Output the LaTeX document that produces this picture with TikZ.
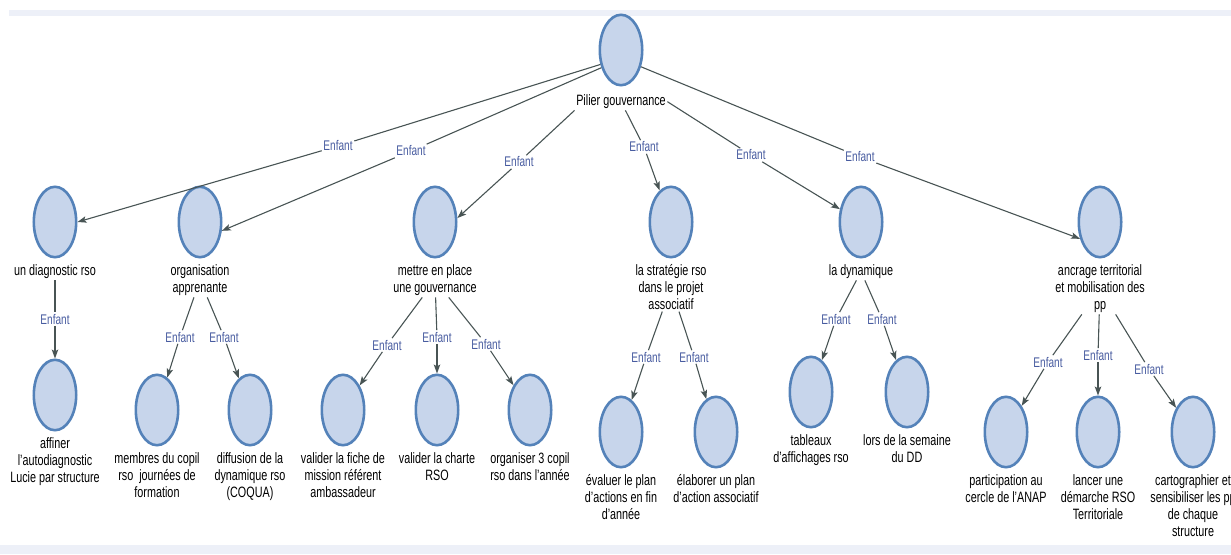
\documentclass[tikz,border=0pt]{standalone}
\usepackage{fontspec}
\setmainfont{Liberation Sans}[FakeStretch=0.72]
\usetikzlibrary{shapes.geometric,arrows.meta,positioning}
\definecolor{remplissage}{RGB}{199,213,235}
\definecolor{bord}{RGB}{84,130,185}
\definecolor{trait}{RGB}{72,84,84}
\definecolor{bleulien}{RGB}{72,92,160}
\definecolor{fond}{RGB}{237,240,248}

\begin{document}
\begin{tikzpicture}[x=1pt, y=-1pt]
        \tikzstyle{bulle}=[ellipse, draw=bord, fill=remplissage, line width=2.6pt, inner sep=0pt, minimum width=42.4pt, minimum height=70.4pt]
        \tikzstyle{etiq}=[align=center, inner sep=1.5pt, font=\fontsize{15}{17}\selectfont]
        \tikzstyle{lien}=[fill=white, inner sep=1.5pt, text=bleulien, font=\fontsize{14}{16}\selectfont]
        \tikzstyle{fil}=[draw=trait, line width=1.1pt]
        \tikzstyle{fleche}=[fil, -{Stealth[length=9pt, width=6.5pt, inset=2pt]}]
        \useasboundingbox (0,0) rectangle (1231,554);
        \fill[fond] (9,10) rectangle (1231,16);
        \fill[fond] (0,545) rectangle (1231,554);

        \node[bulle] (pilier) at (621,50) {};
        \node[etiq, below=6.5pt of pilier] (pilier-t) {Pilier gouvernance};

        \node[bulle] (diag) at (55,222) {};
        \node[etiq, below=4.5pt of diag] (diag-t) {un diagnostic rso};
        \node[bulle] (orga) at (200,222) {};
        \node[etiq, below=4.5pt of orga] (orga-t) {organisation\\apprenante};
        \node[bulle] (gouv) at (435,222) {};
        \node[etiq, below=4.5pt of gouv] (gouv-t) {mettre en place\\une gouvernance};
        \node[bulle] (strat) at (671,222) {};
        \node[etiq, below=4.5pt of strat] (strat-t) {la stratégie rso\\dans le projet\\associatif};
        \node[bulle] (dyn) at (861,222) {};
        \node[etiq, below=4.5pt of dyn] (dyn-t) {la dynamique};
        \node[bulle] (ancr) at (1100,222) {};
        \node[etiq, below=4.5pt of ancr] (ancr-t) {ancrage territorial\\et mobilisation des\\pp};

        \node[bulle] (affiner) at (55,395) {};
        \node[etiq, below=4.5pt of affiner] {affiner\\l'autodiagnostic\\Lucie par structure};
        \node[bulle] (membres) at (157,410) {};
        \node[etiq, below=4.5pt of membres] {membres du copil\\rso\ \ journées de\\formation};
        \node[bulle] (diffusion) at (250,410) {};
        \node[etiq, below=4.5pt of diffusion] {diffusion de la\\dynamique rso\\(COQUA)};
        \node[bulle] (fiche) at (343,410) {};
        \node[etiq, below=4.5pt of fiche] {valider la fiche de\\mission référent\\ambassadeur};
        \node[bulle] (charte) at (437,410) {};
        \node[etiq, below=4.5pt of charte] {valider la charte\\RSO};
        \node[bulle] (copil) at (530,410) {};
        \node[etiq, below=4.5pt of copil] {organiser 3 copil\\rso dans l'année};
        \node[bulle] (evaluer) at (621,432) {};
        \node[etiq, below=4.5pt of evaluer] {évaluer le plan\\d'actions en fin\\d'année};
        \node[bulle] (elaborer) at (716,432) {};
        \node[etiq, below=4.5pt of elaborer] {élaborer un plan\\d'action associatif};
        \node[bulle] (tableaux) at (811,392) {};
        \node[etiq, below=4.5pt of tableaux] {tableaux\\d'affichages rso};
        \node[bulle] (semaine) at (907,392) {};
        \node[etiq, below=4.5pt of semaine] {lors de la semaine\\du DD};
        \node[bulle] (anap) at (1006,432) {};
        \node[etiq, below=4.5pt of anap] {participation au\\cercle de l'ANAP};
        \node[bulle] (demarche) at (1098,432) {};
        \node[etiq, below=4.5pt of demarche] {lancer une\\démarche RSO\\Territoriale};
        \node[bulle] (carto) at (1193,432) {};
        \node[etiq, below=4.5pt of carto] {cartographier et\\sensibiliser les pp\\de chaque\\structure};

        \node[lien] (e-diag) at (338,146) {Enfant};
        \node[lien] (e-orga) at (411,151) {Enfant};
        \node[lien] (e-gouv) at (519,162) {Enfant};
        \node[lien] (e-strat) at (644,147) {Enfant};
        \node[lien] (e-dyn) at (751,155) {Enfant};
        \node[lien] (e-ancr) at (860,157) {Enfant};
        \node[lien] (e-affiner) at (55,319) {Enfant};
        \node[lien] (e-membres) at (180,337) {Enfant};
        \node[lien] (e-diffusion) at (224,337) {Enfant};
        \node[lien] (e-fiche) at (387,345) {Enfant};
        \node[lien] (e-charte) at (437,337) {Enfant};
        \node[lien] (e-copil) at (486,344) {Enfant};
        \node[lien] (e-evaluer) at (646,357) {Enfant};
        \node[lien] (e-elaborer) at (694,357) {Enfant};
        \node[lien] (e-tableaux) at (836,319) {Enfant};
        \node[lien] (e-semaine) at (882,319) {Enfant};
        \node[lien] (e-anap) at (1048,362) {Enfant};
        \node[lien] (e-demarche) at (1098,355) {Enfant};
        \node[lien] (e-carto) at (1149,369) {Enfant};

        \draw[fil] (pilier.215) -- (e-diag); \draw[fleche] (e-diag) -- (diag.east);
        \draw[fil] (pilier.222) -- (e-orga); \draw[fleche] (e-orga) -- (orga.-22);
        \draw[fil] (pilier-t.south west) -- (e-gouv); \draw[fleche] (e-gouv) -- (gouv.10);
        \draw[fil] (pilier-t) -- (e-strat); \draw[fleche] (e-strat) -- (strat);
        \draw[fil] (pilier-t.east) -- (e-dyn); \draw[fleche] (e-dyn) -- (dyn);
        \draw[fil] (pilier.-40) -- (e-ancr); \draw[fleche] (e-ancr) -- (ancr.220);

        \draw[fil] (diag-t) -- (e-affiner); \draw[fleche] (e-affiner) -- (affiner);
        \draw[fil] (orga-t) -- (e-membres); \draw[fleche] (e-membres) -- (membres);
        \draw[fil] (orga-t) -- (e-diffusion); \draw[fleche] (e-diffusion) -- (diffusion);
        \draw[fil] (gouv-t) -- (e-fiche); \draw[fleche] (e-fiche) -- (fiche);
        \draw[fil] (gouv-t) -- (e-charte); \draw[fleche] (e-charte) -- (charte);
        \draw[fil] (gouv-t) -- (e-copil); \draw[fleche] (e-copil) -- (copil);
        \draw[fil] (strat-t) -- (e-evaluer); \draw[fleche] (e-evaluer) -- (evaluer);
        \draw[fil] (strat-t) -- (e-elaborer); \draw[fleche] (e-elaborer) -- (elaborer);
        \draw[fil] (dyn-t) -- (e-tableaux); \draw[fleche] (e-tableaux) -- (tableaux);
        \draw[fil] (dyn-t) -- (e-semaine); \draw[fleche] (e-semaine) -- (semaine);
        \draw[fil] (ancr-t) -- (e-anap); \draw[fleche] (e-anap) -- (anap);
        \draw[fil] (ancr-t) -- (e-demarche); \draw[fleche] (e-demarche) -- (demarche);
        \draw[fil] (ancr-t) -- (e-carto); \draw[fleche] (e-carto) -- (carto);
    \end{tikzpicture}
\end{document}
